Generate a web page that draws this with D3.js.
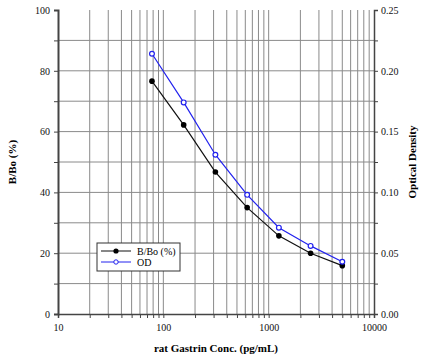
<!DOCTYPE html>
<html>
<head>
<meta charset="utf-8">
<script src="https://cdn.jsdelivr.net/npm/d3@7"></script>
<style>
  body { margin: 0; background: #fff; }
  text { font-family: "Liberation Serif", "DejaVu Serif", serif; }
</style>
</head>
<body>
<svg id="chart"></svg>
<script>
// data
const conc = [78, 156, 312, 625, 1250, 2500, 5000];
const bbo = [76.6, 62.2, 46.7, 35.0, 25.7, 20.0, 15.9];
const od = [0.214, 0.174, 0.131, 0.098, 0.071, 0.056, 0.043];
const xTickLabels = [10, 100, 1000, 10000];
const yTicksLeft = [0, 20, 40, 60, 80, 100];
const yTicksRight = [0, 0.05, 0.10, 0.15, 0.20, 0.25];

const width = 425, height = 361;
const margin = { top: 10, right: 51, bottom: 47, left: 58 };
const innerW = width - margin.left - margin.right;
const innerH = height - margin.top - margin.bottom;

const svg = d3.select('#chart').attr('width', width).attr('height', height);
const g = svg.append('g').attr('transform', `translate(${margin.left},${margin.top})`);

const x = d3.scaleLog().domain([10, 10000]).range([0, innerW]);
const y = d3.scaleLinear().domain([0, 100]).range([innerH, 0]);
const y2 = d3.scaleLinear().domain([0, 0.25]).range([innerH, 0]);

// all log ticks (minor + major)
const allX = [];
for (let p = 10; p < 10000; p *= 10) {
  for (let k = 1; k < 10; k++) allX.push(p * k);
}
allX.push(10000);

// grid
g.append('g').selectAll('line').data(allX.filter(d => d > 10 && d < 10000)).enter()
  .append('line')
  .attr('x1', d => x(d)).attr('x2', d => x(d))
  .attr('y1', 0).attr('y2', innerH)
  .attr('stroke', '#8a8a8a').attr('stroke-width', 1);

g.append('g').selectAll('line').data(d3.range(10, 100, 10)).enter()
  .append('line')
  .attr('x1', 0).attr('x2', innerW)
  .attr('y1', d => y(d)).attr('y2', d => y(d))
  .attr('stroke', '#8a8a8a').attr('stroke-width', 1);

// bottom axis
const xAxis = d3.axisBottom(x)
  .tickValues(allX)
  .tickSize(4)
  .tickPadding(6)
  .tickFormat(d => xTickLabels.includes(d) ? d : '');
const gx = g.append('g').attr('transform', `translate(0,${innerH})`).call(xAxis);
gx.select('.domain').attr('stroke', '#444').attr('stroke-width', 1.5);
gx.selectAll('.tick line').attr('stroke', '#444');
gx.selectAll('text').style('font-size', '10px').attr('fill', '#111');

// left axis
const yAxis = d3.axisLeft(y)
  .tickValues(d3.range(0, 101, 10))
  .tickSize(4)
  .tickPadding(4)
  .tickFormat(d => yTicksLeft.includes(d) ? d : '');
const gy = g.append('g').call(yAxis);
gy.select('.domain').attr('stroke', '#444').attr('stroke-width', 2);
gy.selectAll('.tick line').attr('stroke', '#444');
gy.selectAll('text').style('font-size', '10px').attr('fill', '#111');

// right axis
const y2Axis = d3.axisRight(y2)
  .tickValues(d3.range(0, 11).map(i => i * 0.025))
  .tickSize(4)
  .tickPadding(3)
  .tickFormat(d => yTicksRight.some(t => Math.abs(t - d) < 1e-9) ? d3.format('.2f')(d) : '');
const gy2 = g.append('g').attr('transform', `translate(${innerW},0)`).call(y2Axis);
gy2.select('.domain').attr('stroke', '#444').attr('stroke-width', 1.5);
gy2.selectAll('.tick line').attr('stroke', '#444');
gy2.selectAll('text').style('font-size', '10px').attr('fill', '#111');

// series
const bboData = conc.map((c, i) => ({ c: c, v: bbo[i] }));
const odData = conc.map((c, i) => ({ c: c, v: od[i] }));

const lineB = d3.line().x(d => x(d.c)).y(d => y(d.v));
const lineO = d3.line().x(d => x(d.c)).y(d => y2(d.v));

g.append('path').datum(bboData)
  .attr('d', lineB).attr('fill', 'none').attr('stroke', '#111').attr('stroke-width', 1.2);
g.selectAll('.ptb').data(bboData).enter().append('circle')
  .attr('cx', d => x(d.c)).attr('cy', d => y(d.v)).attr('r', 2.8)
  .attr('fill', '#000');

g.append('path').datum(odData)
  .attr('d', lineO).attr('fill', 'none').attr('stroke', '#2222ee').attr('stroke-width', 1.2);
g.selectAll('.pto').data(odData).enter().append('circle')
  .attr('cx', d => x(d.c)).attr('cy', d => y2(d.v)).attr('r', 2.4)
  .attr('fill', '#fff').attr('stroke', '#2222ee').attr('stroke-width', 1.2);

// legend
const lg = svg.append('g').attr('transform', 'translate(97,243)');
lg.append('rect').attr('width', 83).attr('height', 28)
  .attr('fill', '#fff').attr('stroke', '#333').attr('stroke-width', 1);
lg.append('line').attr('x1', 4).attr('x2', 34).attr('y1', 8).attr('y2', 8).attr('stroke', '#111');
lg.append('circle').attr('cx', 19).attr('cy', 8).attr('r', 2.6).attr('fill', '#000');
lg.append('text').attr('x', 40).attr('y', 11.5).style('font-size', '10px').text('B/Bo (%)');
lg.append('line').attr('x1', 4).attr('x2', 34).attr('y1', 19).attr('y2', 19).attr('stroke', '#2222ee');
lg.append('circle').attr('cx', 19).attr('cy', 19).attr('r', 2.2)
  .attr('fill', '#fff').attr('stroke', '#2222ee');
lg.append('text').attr('x', 40).attr('y', 22.5).style('font-size', '10px').text('OD');

// axis titles
svg.append('text')
  .attr('x', margin.left + innerW / 2).attr('y', 352)
  .attr('text-anchor', 'middle')
  .style('font-size', '11px').style('font-weight', 'bold')
  .text('rat Gastrin Conc. (pg/mL)');

svg.append('text')
  .attr('transform', `translate(16,${margin.top + innerH / 2}) rotate(-90)`)
  .attr('text-anchor', 'middle')
  .style('font-size', '11px').style('font-weight', 'bold')
  .text('B/Bo (%)');

svg.append('text')
  .attr('transform', `translate(416,${margin.top + innerH / 2}) rotate(-90)`)
  .attr('text-anchor', 'middle')
  .style('font-size', '11px').style('font-weight', 'bold')
  .text('Optical Density');
</script>
</body>
</html>
